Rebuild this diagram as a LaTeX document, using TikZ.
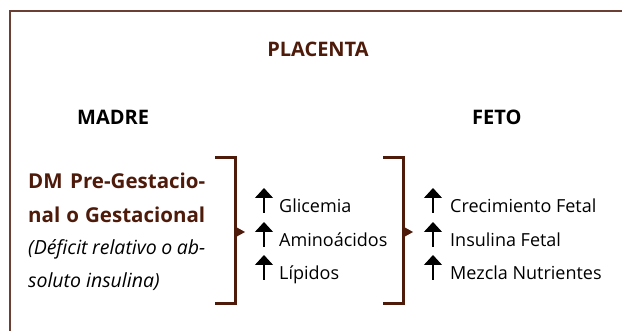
\documentclass[tikz,border=0pt]{standalone}
\usepackage{fontspec}
\setmainfont{Open Sans}
\usetikzlibrary{arrows.meta}
\definecolor{darkbrown}{HTML}{4E1B0B}
\definecolor{framebrown}{HTML}{6B3F33}

\begin{document}
\begin{tikzpicture}[x=1pt, y=-1pt,
		head/.style={font=\fontsize{20}{24}\selectfont\bfseries, anchor=base west, inner sep=0pt},
		item/.style={font=\fontsize{18}{22}\selectfont, anchor=base west, inner sep=0pt},
		dmbold/.style={item, darkbrown, font=\fontsize{20.5}{24}\selectfont\bfseries},
		dmitalic/.style={item, font=\fontsize{19.5}{24}\selectfont\itshape},
		uparrow/.style={line width=1.2pt, -{Triangle[width=18pt, length=10pt]}},
		bracket/.style={darkbrown, line width=3pt}]
		\useasboundingbox (0,0) rectangle (622,331);
		\draw [framebrown, line width=1.2pt] (10,331) -- (10,11) -- (622,11);
		
		\node [head, darkbrown, anchor=base] (placenta) at (318,57) {PLACENTA};
		\node [head] (madre) at (77,125) {MADRE};
		\node [head] (feto) at (472,125) {FETO};
		
		\node [dmbold] (dmA) at (28,189) {\makebox[177pt][s]{DM Pre-Gestacio-}};
		\node [dmbold] (dmB) at (28,223) {\makebox[177pt][s]{nal o Gestacional}};
		\node [dmitalic] (dmC) at (28,255) {\makebox[177pt][s]{(Déficit relativo o ab-}};
		\node [dmitalic] (dmD) at (28,288) {soluto insulina)};
		
		\draw [bracket] (215,158) -- (235,158) -- (235,304) -- (215,304);
		\fill [darkbrown] (236,227) -- (245,232) -- (236,237) -- cycle;
		\draw [bracket] (383,158) -- (403,158) -- (403,304) -- (383,304);
		\fill [darkbrown] (404,227) -- (413,232) -- (404,237) -- cycle;
		
		\node [item] (glic) at (279,213) {Glicemia};
		\node [item] (amino) at (279,247) {Aminoácidos};
		\node [item] (lipid) at (279,280) {Lípidos};
		\node [item] (creci) at (450,213) {Crecimiento Fetal};
		\node [item] (insul) at (450,247) {Insulina Fetal};
		\node [item] (mezcla) at (450,280) {Mezcla Nutrientes};
		
		\draw [uparrow] ([xshift=-15pt]glic.base west) -- ++(0,-25);
		\draw [uparrow] ([xshift=-15pt]amino.base west) -- ++(0,-25);
		\draw [uparrow] ([xshift=-15pt]lipid.base west) -- ++(0,-25);
		\draw [uparrow] ([xshift=-17pt]creci.base west) -- ++(0,-25);
		\draw [uparrow] ([xshift=-17pt]insul.base west) -- ++(0,-25);
		\draw [uparrow] ([xshift=-17pt]mezcla.base west) -- ++(0,-25);
		
	\end{tikzpicture}
\end{document}
